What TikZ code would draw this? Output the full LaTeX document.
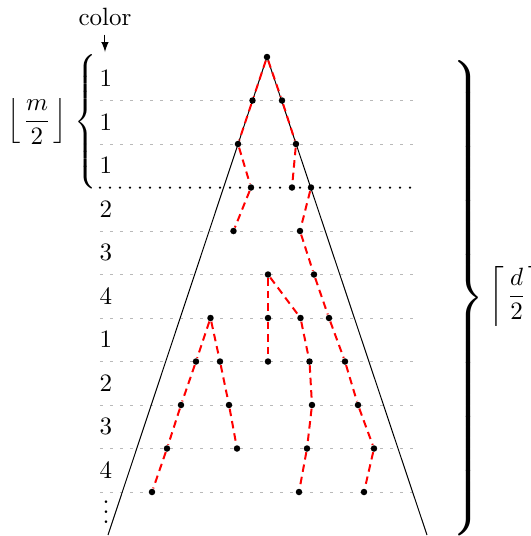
\documentclass[tikz,border=0pt]{standalone}
\usepackage{amsmath}
\usepackage{amssymb}

\tikzset{
  dot/.style={circle, fill=black, inner sep=0pt, minimum size=2.6pt},
  redpath/.style={red, thick, dash pattern=on 3pt off 2pt},
  levelline/.style={gray!55, dash pattern=on 1.2pt off 2.8pt},
  cutline/.style={black, line width=1pt, line cap=round, dash pattern=on 0pt off 4pt},
  bracebox/.style={inner sep=0pt, anchor=base west},
}
\newcommand{\tallbrace}[3]{{\delimitershortfall=0pt\delimiterfactor=1000
  \left#1\vrule height #3 depth #3 width 0pt\right#2}}

\begin{document}
\begin{tikzpicture}[x=0.4pt, y=-0.4pt]
  \useasboundingbox (0,0) rectangle (531,536);
  % levels
  \draw[levelline] (100,100.5) -- (420,100.5);
  \draw[levelline] (100,144) -- (420,144);
  \draw[cutline] (100,187.5) -- (420,187.5);
  \draw[levelline] (100,231) -- (420,231);
  \draw[levelline] (100,274.5) -- (420,274.5);
  \draw[levelline] (100,318) -- (420,318);
  \draw[levelline] (100,361.5) -- (420,361.5);
  \draw[levelline] (100,405) -- (420,405);
  \draw[levelline] (100,448.5) -- (420,448.5);
  \draw[levelline] (100,492) -- (420,492);
  % colors of the levels
  \node (color) at (105,17) {color};
  \coordinate (colortip) at (105,52);
  \draw[-latex] (color) -- (colortip);
  \node (c0) at (106,78) {$1$};
  \node (c1) at (106,122) {$1$};
  \node (c2) at (106,165.5) {$1$};
  \node (c3) at (106,209) {$2$};
  \node (c4) at (106,252.5) {$3$};
  \node (c5) at (106,296) {$4$};
  \node (c6) at (106,339.5) {$1$};
  \node (c7) at (106,383) {$2$};
  \node (c8) at (106,426.5) {$3$};
  \node (c9) at (106,470) {$4$};
  \node (cdots) at (106,505) {$\vdots$};
  % braces
  \node[bracebox] (lbrace) at (74,127.75) {$\tallbrace{\{}{.}{25.4pt}$};
  \node (half m) at (37,121.5) {$\left\lfloor\mkern2mu\dfrac{m}{2}\mkern2mu\right\rfloor$};
  \node[bracebox, font=\Large] (rbrace) at (449,307) {$\tallbrace{.}{\}}{93.5pt}$};
  \node[anchor=west] (half d) at (481,296) {$\left\lceil\mkern2mu\dfrac{d}{2}\mkern2mu\right\rceil$};
  % vertices
  \node[dot] (r) at (267,57) {};
  \node[dot] (a1) at (252.5,100.5) {};
  \node[dot] (b1) at (282,100.5) {};
  \node[dot] (a2) at (238,144) {};
  \node[dot] (b2) at (296,144) {};
  \node[dot] (a3) at (251,187.5) {};
  \node[dot] (b3) at (292,187.5) {};
  \node[dot] (k3) at (311,187.5) {};
  \node[dot] (a4) at (233.5,231) {};
  \node[dot] (k4) at (300,231) {};
  \node[dot] (d5) at (268,274.5) {};
  \node[dot] (k5) at (314,274.5) {};
  \node[dot] (e6) at (210.5,318) {};
  \node[dot] (d6) at (268,318) {};
  \node[dot] (f6) at (300.5,318) {};
  \node[dot] (k6) at (329,318) {};
  \node[dot] (e7) at (196,361.5) {};
  \node[dot] (g7) at (220,361.5) {};
  \node[dot] (d7) at (268,361.5) {};
  \node[dot] (f7) at (309.5,361.5) {};
  \node[dot] (k7) at (345,361.5) {};
  \node[dot] (e8) at (181,405) {};
  \node[dot] (g8) at (229,405) {};
  \node[dot] (f8) at (312,405) {};
  \node[dot] (k8) at (358,405) {};
  \node[dot] (e9) at (167,448.5) {};
  \node[dot] (g9) at (237,448.5) {};
  \node[dot] (f9) at (307,448.5) {};
  \node[dot] (k9) at (374,448.5) {};
  \node[dot] (e10) at (152,492) {};
  \node[dot] (f10) at (299,492) {};
  \node[dot] (k10) at (364,492) {};
  % cone
  \coordinate (bl) at (108,535);
  \coordinate (br) at (427,535);
  \draw (bl) -- (r.center) -- (br);
  % paths
  \draw[redpath] (r) -- (a1) -- (a2) -- (a3) -- (a4);
  \draw[redpath] (r) -- (b1) -- (b2) -- (b3);
  \draw[redpath] (k3) -- (k4) -- (k5) -- (k6) -- (k7) -- (k8) -- (k9) -- (k10);
  \draw[redpath] (d5) -- (d6) -- (d7);
  \draw[redpath] (d5) -- (f6) -- (f7) -- (f8) -- (f9) -- (f10);
  \draw[redpath] (e6) -- (e7) -- (e8) -- (e9) -- (e10);
  \draw[redpath] (e6) -- (g7) -- (g8) -- (g9);
\end{tikzpicture}
\end{document}
